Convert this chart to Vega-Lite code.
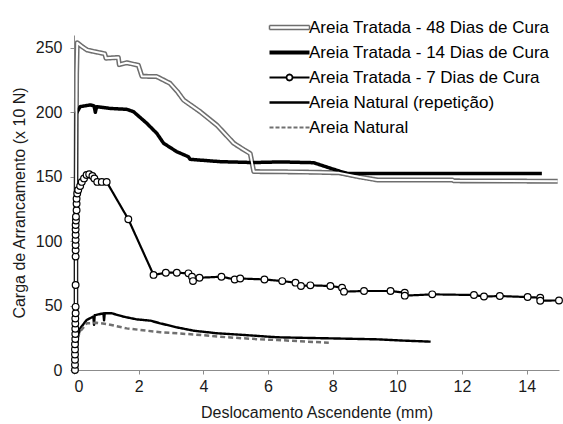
{
  "$schema": "https://vega.github.io/schema/vega-lite/v6.json",
  "width": 485,
  "height": 335,
  "autosize": {"type": "none"},
  "padding": {"left": 74, "top": 35, "right": 4, "bottom": 54},
  "background": "white",
  "config": {
    "view": {"stroke": null},
    "font": "Liberation Sans",
    "axis": {
      "grid": false,
      "domainColor": "#8c8c8c",
      "tickColor": "#8c8c8c",
      "tickSize": 4,
      "labelFontSize": 16,
      "labelColor": "#1a1a1a",
      "titleFontSize": 16,
      "titleFontWeight": "normal",
      "titleColor": "#1a1a1a",
      "labelFont": "Liberation Sans",
      "titleFont": "Liberation Sans"
    }
  },
  "data": {
    "values": [
      {"serie": "Areia Tratada - 48 Dias de Cura", "x": 0.06, "y": 0},
      {"serie": "Areia Tratada - 48 Dias de Cura", "x": 0.06, "y": 120},
      {"serie": "Areia Tratada - 48 Dias de Cura", "x": 0.08, "y": 230},
      {"serie": "Areia Tratada - 48 Dias de Cura", "x": 0.10, "y": 254},
      {"serie": "Areia Tratada - 48 Dias de Cura", "x": 0.25, "y": 251},
      {"serie": "Areia Tratada - 48 Dias de Cura", "x": 0.41, "y": 248.3},
      {"serie": "Areia Tratada - 48 Dias de Cura", "x": 0.65, "y": 247},
      {"serie": "Areia Tratada - 48 Dias de Cura", "x": 0.95, "y": 245.5},
      {"serie": "Areia Tratada - 48 Dias de Cura", "x": 0.99, "y": 242},
      {"serie": "Areia Tratada - 48 Dias de Cura", "x": 1.37, "y": 242.6},
      {"serie": "Areia Tratada - 48 Dias de Cura", "x": 1.40, "y": 237},
      {"serie": "Areia Tratada - 48 Dias de Cura", "x": 1.63, "y": 238.5},
      {"serie": "Areia Tratada - 48 Dias de Cura", "x": 1.99, "y": 236.5},
      {"serie": "Areia Tratada - 48 Dias de Cura", "x": 2.10, "y": 228},
      {"serie": "Areia Tratada - 48 Dias de Cura", "x": 2.56, "y": 227.7},
      {"serie": "Areia Tratada - 48 Dias de Cura", "x": 2.97, "y": 222.5},
      {"serie": "Areia Tratada - 48 Dias de Cura", "x": 3.20, "y": 216},
      {"serie": "Areia Tratada - 48 Dias de Cura", "x": 3.39, "y": 209.5},
      {"serie": "Areia Tratada - 48 Dias de Cura", "x": 3.90, "y": 200.5},
      {"serie": "Areia Tratada - 48 Dias de Cura", "x": 4.42, "y": 190},
      {"serie": "Areia Tratada - 48 Dias de Cura", "x": 4.94, "y": 176},
      {"serie": "Areia Tratada - 48 Dias de Cura", "x": 5.25, "y": 171},
      {"serie": "Areia Tratada - 48 Dias de Cura", "x": 5.45, "y": 168},
      {"serie": "Areia Tratada - 48 Dias de Cura", "x": 5.56, "y": 154},
      {"serie": "Areia Tratada - 48 Dias de Cura", "x": 6.50, "y": 153.8},
      {"serie": "Areia Tratada - 48 Dias de Cura", "x": 7.50, "y": 153.5},
      {"serie": "Areia Tratada - 48 Dias de Cura", "x": 8.20, "y": 153},
      {"serie": "Areia Tratada - 48 Dias de Cura", "x": 8.80, "y": 150},
      {"serie": "Areia Tratada - 48 Dias de Cura", "x": 9.38, "y": 147.5},
      {"serie": "Areia Tratada - 48 Dias de Cura", "x": 11.70, "y": 147.5},
      {"serie": "Areia Tratada - 48 Dias de Cura", "x": 11.75, "y": 146.8},
      {"serie": "Areia Tratada - 48 Dias de Cura", "x": 14.96, "y": 146.5},

      {"serie": "Areia Tratada - 14 Dias de Cura", "x": 0.06, "y": 0},
      {"serie": "Areia Tratada - 14 Dias de Cura", "x": 0.06, "y": 100},
      {"serie": "Areia Tratada - 14 Dias de Cura", "x": 0.07, "y": 199},
      {"serie": "Areia Tratada - 14 Dias de Cura", "x": 0.19, "y": 204.4},
      {"serie": "Areia Tratada - 14 Dias de Cura", "x": 0.50, "y": 205.7},
      {"serie": "Areia Tratada - 14 Dias de Cura", "x": 0.62, "y": 205},
      {"serie": "Areia Tratada - 14 Dias de Cura", "x": 0.66, "y": 200},
      {"serie": "Areia Tratada - 14 Dias de Cura", "x": 0.70, "y": 204.4},
      {"serie": "Areia Tratada - 14 Dias de Cura", "x": 1.12, "y": 203},
      {"serie": "Areia Tratada - 14 Dias de Cura", "x": 1.63, "y": 202.3},
      {"serie": "Areia Tratada - 14 Dias de Cura", "x": 1.84, "y": 200.5},
      {"serie": "Areia Tratada - 14 Dias de Cura", "x": 2.25, "y": 191.5},
      {"serie": "Areia Tratada - 14 Dias de Cura", "x": 2.56, "y": 183.7},
      {"serie": "Areia Tratada - 14 Dias de Cura", "x": 2.77, "y": 176},
      {"serie": "Areia Tratada - 14 Dias de Cura", "x": 3.18, "y": 169.4},
      {"serie": "Areia Tratada - 14 Dias de Cura", "x": 3.54, "y": 165.5},
      {"serie": "Areia Tratada - 14 Dias de Cura", "x": 3.59, "y": 163.5},
      {"serie": "Areia Tratada - 14 Dias de Cura", "x": 4.52, "y": 161.7},
      {"serie": "Areia Tratada - 14 Dias de Cura", "x": 5.56, "y": 161},
      {"serie": "Areia Tratada - 14 Dias de Cura", "x": 6.38, "y": 161.5},
      {"serie": "Areia Tratada - 14 Dias de Cura", "x": 7.41, "y": 160.9},
      {"serie": "Areia Tratada - 14 Dias de Cura", "x": 7.93, "y": 156.6},
      {"serie": "Areia Tratada - 14 Dias de Cura", "x": 8.24, "y": 154.1},
      {"serie": "Areia Tratada - 14 Dias de Cura", "x": 8.45, "y": 152.6},
      {"serie": "Areia Tratada - 14 Dias de Cura", "x": 14.47, "y": 152.6},

      {"serie": "Areia Tratada - 7 Dias de Cura", "x": 0.03, "y": 0},
      {"serie": "Areia Tratada - 7 Dias de Cura", "x": 0.03, "y": 4},
      {"serie": "Areia Tratada - 7 Dias de Cura", "x": 0.03, "y": 8},
      {"serie": "Areia Tratada - 7 Dias de Cura", "x": 0.03, "y": 12},
      {"serie": "Areia Tratada - 7 Dias de Cura", "x": 0.03, "y": 16},
      {"serie": "Areia Tratada - 7 Dias de Cura", "x": 0.03, "y": 20},
      {"serie": "Areia Tratada - 7 Dias de Cura", "x": 0.04, "y": 24},
      {"serie": "Areia Tratada - 7 Dias de Cura", "x": 0.04, "y": 28},
      {"serie": "Areia Tratada - 7 Dias de Cura", "x": 0.04, "y": 32},
      {"serie": "Areia Tratada - 7 Dias de Cura", "x": 0.04, "y": 36},
      {"serie": "Areia Tratada - 7 Dias de Cura", "x": 0.04, "y": 40},
      {"serie": "Areia Tratada - 7 Dias de Cura", "x": 0.05, "y": 44},
      {"serie": "Areia Tratada - 7 Dias de Cura", "x": 0.05, "y": 49},
      {"serie": "Areia Tratada - 7 Dias de Cura", "x": 0.05, "y": 66},
      {"serie": "Areia Tratada - 7 Dias de Cura", "x": 0.05, "y": 88},
      {"serie": "Areia Tratada - 7 Dias de Cura", "x": 0.05, "y": 93},
      {"serie": "Areia Tratada - 7 Dias de Cura", "x": 0.05, "y": 97},
      {"serie": "Areia Tratada - 7 Dias de Cura", "x": 0.05, "y": 101},
      {"serie": "Areia Tratada - 7 Dias de Cura", "x": 0.05, "y": 105},
      {"serie": "Areia Tratada - 7 Dias de Cura", "x": 0.05, "y": 109},
      {"serie": "Areia Tratada - 7 Dias de Cura", "x": 0.05, "y": 112.5},
      {"serie": "Areia Tratada - 7 Dias de Cura", "x": 0.06, "y": 116},
      {"serie": "Areia Tratada - 7 Dias de Cura", "x": 0.06, "y": 119},
      {"serie": "Areia Tratada - 7 Dias de Cura", "x": 0.08, "y": 124},
      {"serie": "Areia Tratada - 7 Dias de Cura", "x": 0.08, "y": 129},
      {"serie": "Areia Tratada - 7 Dias de Cura", "x": 0.08, "y": 133},
      {"serie": "Areia Tratada - 7 Dias de Cura", "x": 0.10, "y": 137},
      {"serie": "Areia Tratada - 7 Dias de Cura", "x": 0.13, "y": 139.7},
      {"serie": "Areia Tratada - 7 Dias de Cura", "x": 0.19, "y": 142.8},
      {"serie": "Areia Tratada - 7 Dias de Cura", "x": 0.24, "y": 146},
      {"serie": "Areia Tratada - 7 Dias de Cura", "x": 0.31, "y": 148.7},
      {"serie": "Areia Tratada - 7 Dias de Cura", "x": 0.39, "y": 151.3},
      {"serie": "Areia Tratada - 7 Dias de Cura", "x": 0.47, "y": 152},
      {"serie": "Areia Tratada - 7 Dias de Cura", "x": 0.57, "y": 150.6},
      {"serie": "Areia Tratada - 7 Dias de Cura", "x": 0.63, "y": 148.7},
      {"serie": "Areia Tratada - 7 Dias de Cura", "x": 0.72, "y": 146},
      {"serie": "Areia Tratada - 7 Dias de Cura", "x": 0.86, "y": 146},
      {"serie": "Areia Tratada - 7 Dias de Cura", "x": 1.01, "y": 146},
      {"serie": "Areia Tratada - 7 Dias de Cura", "x": 1.68, "y": 117},
      {"serie": "Areia Tratada - 7 Dias de Cura", "x": 2.46, "y": 73.8},
      {"serie": "Areia Tratada - 7 Dias de Cura", "x": 2.84, "y": 75.5},
      {"serie": "Areia Tratada - 7 Dias de Cura", "x": 3.18, "y": 75.5},
      {"serie": "Areia Tratada - 7 Dias de Cura", "x": 3.54, "y": 75},
      {"serie": "Areia Tratada - 7 Dias de Cura", "x": 3.65, "y": 72.4},
      {"serie": "Areia Tratada - 7 Dias de Cura", "x": 3.68, "y": 69},
      {"serie": "Areia Tratada - 7 Dias de Cura", "x": 3.88, "y": 71.6},
      {"serie": "Areia Tratada - 7 Dias de Cura", "x": 4.56, "y": 72.4},
      {"serie": "Areia Tratada - 7 Dias de Cura", "x": 4.97, "y": 70.3},
      {"serie": "Areia Tratada - 7 Dias de Cura", "x": 5.14, "y": 71},
      {"serie": "Areia Tratada - 7 Dias de Cura", "x": 5.89, "y": 70.3},
      {"serie": "Areia Tratada - 7 Dias de Cura", "x": 6.44, "y": 69},
      {"serie": "Areia Tratada - 7 Dias de Cura", "x": 6.85, "y": 67.8},
      {"serie": "Areia Tratada - 7 Dias de Cura", "x": 7.02, "y": 65.2},
      {"serie": "Areia Tratada - 7 Dias de Cura", "x": 7.31, "y": 65.7},
      {"serie": "Areia Tratada - 7 Dias de Cura", "x": 7.93, "y": 65.2},
      {"serie": "Areia Tratada - 7 Dias de Cura", "x": 8.29, "y": 63.9},
      {"serie": "Areia Tratada - 7 Dias de Cura", "x": 8.35, "y": 60.8},
      {"serie": "Areia Tratada - 7 Dias de Cura", "x": 8.97, "y": 61.3},
      {"serie": "Areia Tratada - 7 Dias de Cura", "x": 9.79, "y": 61.3},
      {"serie": "Areia Tratada - 7 Dias de Cura", "x": 10.23, "y": 60},
      {"serie": "Areia Tratada - 7 Dias de Cura", "x": 10.23, "y": 57.7},
      {"serie": "Areia Tratada - 7 Dias de Cura", "x": 11.08, "y": 58.7},
      {"serie": "Areia Tratada - 7 Dias de Cura", "x": 12.37, "y": 58.2},
      {"serie": "Areia Tratada - 7 Dias de Cura", "x": 12.68, "y": 57},
      {"serie": "Areia Tratada - 7 Dias de Cura", "x": 13.17, "y": 57.4},
      {"serie": "Areia Tratada - 7 Dias de Cura", "x": 14.03, "y": 56.6},
      {"serie": "Areia Tratada - 7 Dias de Cura", "x": 14.42, "y": 56.1},
      {"serie": "Areia Tratada - 7 Dias de Cura", "x": 14.42, "y": 53.8},
      {"serie": "Areia Tratada - 7 Dias de Cura", "x": 15.0, "y": 54},

      {"serie": "Areia Natural (repetição)", "x": 0.05, "y": 0},
      {"serie": "Areia Natural (repetição)", "x": 0.08, "y": 15},
      {"serie": "Areia Natural (repetição)", "x": 0.12, "y": 25},
      {"serie": "Areia Natural (repetição)", "x": 0.19, "y": 32.3},
      {"serie": "Areia Natural (repetição)", "x": 0.39, "y": 38.8},
      {"serie": "Areia Natural (repetição)", "x": 0.60, "y": 41.5},
      {"serie": "Areia Natural (repetição)", "x": 0.62, "y": 35},
      {"serie": "Areia Natural (repetição)", "x": 0.64, "y": 42.5},
      {"serie": "Areia Natural (repetição)", "x": 0.91, "y": 44},
      {"serie": "Areia Natural (repetição)", "x": 0.93, "y": 38.5},
      {"serie": "Areia Natural (repetição)", "x": 0.95, "y": 44},
      {"serie": "Areia Natural (repetição)", "x": 1.17, "y": 44},
      {"serie": "Areia Natural (repetição)", "x": 1.53, "y": 41.4},
      {"serie": "Areia Natural (repetição)", "x": 1.94, "y": 39.3},
      {"serie": "Areia Natural (repetição)", "x": 2.36, "y": 38.3},
      {"serie": "Areia Natural (repetição)", "x": 2.67, "y": 36.2},
      {"serie": "Areia Natural (repetição)", "x": 3.18, "y": 33.1},
      {"serie": "Areia Natural (repetição)", "x": 3.70, "y": 30.5},
      {"serie": "Areia Natural (repetição)", "x": 4.42, "y": 28.5},
      {"serie": "Areia Natural (repetição)", "x": 5.25, "y": 27.2},
      {"serie": "Areia Natural (repetição)", "x": 6.28, "y": 25.4},
      {"serie": "Areia Natural (repetição)", "x": 7.00, "y": 25},
      {"serie": "Areia Natural (repetição)", "x": 7.83, "y": 24.6},
      {"serie": "Areia Natural (repetição)", "x": 9.38, "y": 23.8},
      {"serie": "Areia Natural (repetição)", "x": 10.20, "y": 22.8},
      {"serie": "Areia Natural (repetição)", "x": 11.03, "y": 22},

      {"serie": "Areia Natural", "x": 0.05, "y": 0},
      {"serie": "Areia Natural", "x": 0.08, "y": 18},
      {"serie": "Areia Natural", "x": 0.12, "y": 26},
      {"serie": "Areia Natural", "x": 0.19, "y": 29.8},
      {"serie": "Areia Natural", "x": 0.39, "y": 36.2},
      {"serie": "Areia Natural", "x": 0.70, "y": 36.7},
      {"serie": "Areia Natural", "x": 1.01, "y": 35.7},
      {"serie": "Areia Natural", "x": 1.63, "y": 32.3},
      {"serie": "Areia Natural", "x": 2.67, "y": 29.3},
      {"serie": "Areia Natural", "x": 3.70, "y": 27.6},
      {"serie": "Areia Natural", "x": 4.73, "y": 25.4},
      {"serie": "Areia Natural", "x": 5.76, "y": 23.8},
      {"serie": "Areia Natural", "x": 6.28, "y": 23.3},
      {"serie": "Areia Natural", "x": 7.00, "y": 22.3},
      {"serie": "Areia Natural", "x": 7.88, "y": 21.2}
    ]
  },
  "encoding": {
    "x": {
      "field": "x", "type": "quantitative",
      "scale": {"domain": [0, 15], "nice": false, "zero": false},
      "axis": {"values": [0, 2, 4, 6, 8, 10, 12, 14], "title": "Deslocamento Ascendente (mm)", "labelPadding": 4, "titlePadding": 10}
    },
    "y": {
      "field": "y", "type": "quantitative",
      "scale": {"domain": [0, 260], "nice": false},
      "axis": {"values": [0, 50, 100, 150, 200, 250], "title": "Carga de Arrancamento (x 10 N)", "labelPadding": 8, "titlePadding": 8}
    }
  },
  "layer": [
    {
      "mark": {"type": "line", "strokeCap": "butt", "strokeJoin": "round"},
      "encoding": {
        "order": {"value": null},
        "color": {
          "field": "serie", "type": "nominal",
          "scale": {
            "domain": ["Areia Tratada - 48 Dias de Cura", "Areia Tratada - 14 Dias de Cura", "Areia Tratada - 7 Dias de Cura", "Areia Natural (repetição)", "Areia Natural"],
            "range": ["#6e6e6e", "#000000", "#000000", "#000000", "#707070"]
          },
          "legend": {
            "title": null,
            "orient": "none",
            "legendX": 207,
            "legendY": -16,
            "symbolSize": 400,
            "symbolStrokeWidth": 1.5,
            "labelOffset": 11,
            "labelFontSize": 17,
            "labelFont": "Liberation Sans",
            "labelColor": "#000000",
            "labelLimit": 400,
            "rowPadding": 7,
            "encode": {
              "symbols": {
                "update": {
                  "shape": {"signal": "datum.value === 'Areia Tratada - 48 Dias de Cura' ? 'M-2,-0.2H2V0.2H-2Z' : datum.value === 'Areia Tratada - 7 Dias de Cura' ? 'M-2,0H-0.3M0.3,0H2M0.3,0A0.3,0.3 0 1 1 -0.3,0A0.3,0.3 0 1 1 0.3,0' : 'M-2,0H2'"},
                  "stroke": {"signal": "datum.value === 'Areia Tratada - 48 Dias de Cura' ? '#6e6e6e' : datum.value === 'Areia Natural' ? '#707070' : '#000000'"},
                  "strokeWidth": {"signal": "datum.value === 'Areia Tratada - 48 Dias de Cura' ? 1.5 : datum.value === 'Areia Tratada - 14 Dias de Cura' ? 4 : datum.value === 'Areia Tratada - 7 Dias de Cura' ? 1.8 : datum.value === 'Areia Natural' ? 2.2 : 2.5"},
                  "strokeDash": {"signal": "datum.value === 'Areia Natural' ? [4, 2] : [1, 0]"},
                  "fill": {"value": "#ffffff"},
                  "fillOpacity": {"value": 1},
                  "opacity": {"value": 1}
                }
              }
            }
          }
        },
        "strokeWidth": {
          "condition": [
            {"test": "datum.serie === 'Areia Tratada - 48 Dias de Cura'", "value": 5},
            {"test": "datum.serie === 'Areia Tratada - 14 Dias de Cura'", "value": 3.5},
            {"test": "datum.serie === 'Areia Tratada - 7 Dias de Cura'", "value": 2.2},
            {"test": "datum.serie === 'Areia Natural (repetição)'", "value": 2.4}
          ],
          "value": 2.5
        },
        "strokeDash": {
          "condition": {"test": "datum.serie === 'Areia Natural'", "value": [5, 3]},
          "value": [1, 0]
        }
      }
    },
    {
      "transform": [{"filter": "datum.serie === 'Areia Tratada - 48 Dias de Cura'"}],
      "mark": {"type": "line", "color": "#ffffff", "strokeWidth": 2, "strokeCap": "butt", "strokeJoin": "round"},
      "encoding": {"order": {"value": null}}
    },
    {
      "transform": [{"filter": "datum.serie === 'Areia Tratada - 7 Dias de Cura'"}],
      "mark": {"type": "point", "shape": "circle", "filled": true, "fill": "#ffffff", "stroke": "#000000", "strokeWidth": 1.2, "size": 45, "opacity": 1}
    }
  ]
}
